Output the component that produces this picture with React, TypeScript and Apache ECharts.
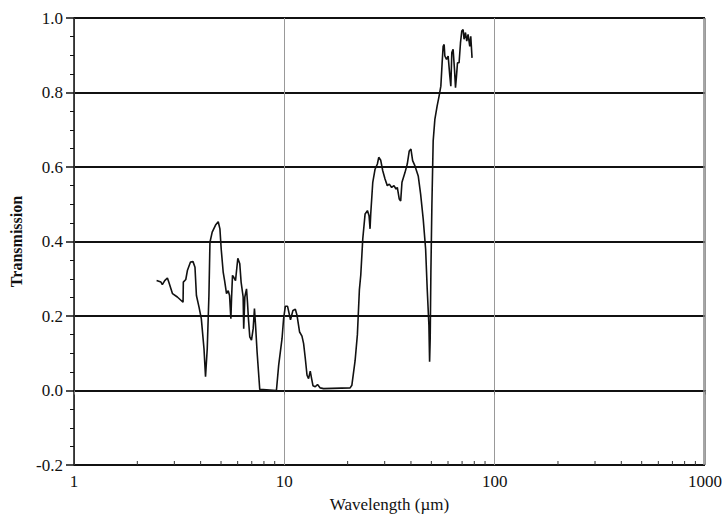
import React, { useEffect, useRef } from "react";
import * as echarts from "echarts";

// Wavelength (µm) and transmission
const wavelengths: number[] = [
  2.47, 2.59, 2.63, 2.7, 2.78, 2.83, 2.94, 3.1, 3.3, 3.31, 3.4, 3.46, 3.58, 3.68, 3.76, 3.82, 3.93,
  4.03, 4.15, 4.22, 4.3, 4.38, 4.43, 4.54, 4.71, 4.85, 4.94, 5.01, 5.12, 5.2, 5.31, 5.41, 5.49,
  5.57, 5.61, 5.67, 5.75, 5.86, 6.01, 6.14, 6.23, 6.37, 6.41, 6.49, 6.61, 6.68, 6.75, 6.85, 6.98,
  7.11, 7.21, 7.29, 7.42, 7.64, 9.17, 9.4, 9.75, 9.92, 10.11, 10.36, 10.7, 10.99, 11.28, 11.49,
  11.82, 12.13, 12.35, 12.58, 12.82, 13.04, 13.28, 13.48, 13.68, 14.03, 14.38, 14.81, 15.36,
  20.55, 20.94, 21.7, 22.25, 22.74, 23.09, 23.6, 24.21, 24.83, 25.28, 25.56, 25.75, 26.33, 27.0,
  27.69, 28.11, 28.73, 29.37, 30.11, 30.87, 31.56, 32.38, 33.21, 33.95, 34.44, 35.19, 35.74,
  36.25, 37.46, 38.41, 39.26, 39.99, 40.74, 41.78, 43.31, 44.46, 45.74, 46.96, 47.78, 48.68,
  49.05, 49.37, 49.75, 50.29, 51.01, 51.96, 53.28, 54.45, 55.48, 56.27, 56.89, 57.52, 57.96,
  59.04, 60.09, 61.21, 61.88, 62.56, 63.45, 64.42, 65.13, 65.84, 66.57, 67.74, 68.78, 69.77,
  70.77, 71.54, 72.64, 73.69, 74.74, 76.14, 76.98, 78.06,
];

const transmission: number[] = [
  0.295, 0.291, 0.284, 0.295, 0.302, 0.289, 0.26, 0.251, 0.237, 0.291, 0.298, 0.322, 0.345, 0.346,
  0.331, 0.255, 0.224, 0.193, 0.112, 0.037, 0.112, 0.255, 0.398, 0.425, 0.444, 0.453, 0.434, 0.38,
  0.318, 0.295, 0.26, 0.268, 0.255, 0.193, 0.246, 0.309, 0.304, 0.295, 0.355, 0.34, 0.291, 0.251,
  0.166, 0.251, 0.273, 0.237, 0.193, 0.144, 0.135, 0.166, 0.22, 0.179, 0.104, 0.003, 0.0, 0.068,
  0.139, 0.193, 0.226, 0.226, 0.19, 0.215, 0.218, 0.202, 0.157, 0.146, 0.126, 0.086, 0.041,
  0.032, 0.052, 0.032, 0.013, 0.01, 0.016, 0.007, 0.005, 0.007, 0.014, 0.08, 0.15, 0.27, 0.31,
  0.407, 0.474, 0.483, 0.469, 0.434, 0.474, 0.559, 0.594, 0.608, 0.626, 0.618, 0.59, 0.568, 0.55,
  0.554, 0.545, 0.55, 0.541, 0.545, 0.514, 0.509, 0.559, 0.585, 0.608, 0.643, 0.648, 0.617,
  0.603, 0.576, 0.527, 0.46, 0.38, 0.273, 0.175, 0.077, 0.139, 0.318, 0.496, 0.67, 0.728, 0.764,
  0.791, 0.817, 0.88, 0.924, 0.929, 0.898, 0.889, 0.898, 0.844, 0.817, 0.907, 0.916, 0.862,
  0.813, 0.844, 0.88, 0.88, 0.933, 0.965, 0.969, 0.943, 0.961, 0.938, 0.956, 0.924, 0.951, 0.893,
];

// Minor tick positions on the log x-axis
const xMinorTicks: number[] = [
  2, 3, 4, 5, 6, 7, 8, 9, 20, 30, 40, 50, 60, 70, 80, 90, 200, 300, 400, 500, 600, 700, 800, 900,
];

// Right frame edge: [x, yFrom, yTo]
const rightFrame: number[][] = [[1000, -0.2, 1.0]];

const FONT = "Liberation Serif";

export default function App() {
  const ref = useRef<HTMLDivElement>(null);

  useEffect(() => {
    if (!ref.current) return;
    const chart = echarts.init(ref.current, undefined, { renderer: "svg" });
    const lineData = wavelengths.map((w, i) => [w, transmission[i]]);

    chart.setOption({
      animation: false,
      backgroundColor: "#ffffff",
      grid: { left: 73, right: 20, top: 18, bottom: 52, containLabel: false },
      xAxis: {
        type: "log",
        logBase: 10,
        min: 1,
        max: 1000,
        name: "Wavelength (µm)",
        nameLocation: "middle",
        nameGap: 31,
        nameTextStyle: { fontFamily: FONT, fontSize: 17, color: "#111" },
        axisLine: { show: true, lineStyle: { color: "#111", width: 2 } },
        axisTick: { show: true, inside: false, length: 4, lineStyle: { color: "#777", width: 1 } },
        axisLabel: {
          fontFamily: FONT,
          fontSize: 17,
          color: "#111",
          margin: 8,
          formatter: (v: number) => String(Math.round(v)),
        },
        splitLine: {
          show: true,
          showMinLine: true,
          showMaxLine: true,
          lineStyle: { color: "#999", width: 1 },
        },
      },
      yAxis: {
        type: "value",
        min: -0.2,
        max: 1.0,
        interval: 0.2,
        name: "Transmission",
        nameLocation: "middle",
        nameGap: 50,
        nameTextStyle: { fontFamily: FONT, fontSize: 16, fontWeight: "bold", color: "#111" },
        axisLine: { show: true, lineStyle: { color: "#111", width: 1.5 } },
        axisTick: { show: true, inside: false, length: 8, lineStyle: { color: "#111", width: 1.5 } },
        minorTick: { show: true, splitNumber: 4, length: 4, lineStyle: { color: "#111", width: 1 } },
        axisLabel: {
          fontFamily: FONT,
          fontSize: 17,
          color: "#111",
          margin: 11,
          formatter: (v: number) => v.toFixed(1),
        },
        splitLine: { show: true, lineStyle: { color: "#111", width: 2 } },
      },
      series: [
        {
          type: "line",
          data: lineData,
          showSymbol: false,
          symbol: "none",
          lineStyle: { color: "#111", width: 1.6 },
          z: 5,
        },
        {
          type: "custom",
          data: xMinorTicks.map((v) => [v, -0.2]),
          renderItem: (_params: any, api: any) => {
            const p = api.coord([api.value(0), api.value(1)]);
            return {
              type: "line",
              shape: { x1: p[0], y1: p[1], x2: p[0], y2: p[1] - 4 },
              style: { stroke: "#333", lineWidth: 1 },
            };
          },
          z: 6,
          silent: true,
        },
        {
          type: "custom",
          clip: false,
          data: rightFrame,
          encode: { x: 0, y: [1, 2] },
          renderItem: (_params: any, api: any) => {
            const a = api.coord([api.value(0), api.value(1)]);
            const b = api.coord([api.value(0), api.value(2)]);
            return {
              type: "line",
              shape: { x1: a[0] - 1, y1: a[1], x2: b[0] - 1, y2: b[1] },
              style: { stroke: "#888", lineWidth: 1.5 },
            };
          },
          z: 4,
          silent: true,
        },
      ],
    });

    return () => chart.dispose();
  }, []);

  return (
    <div
      ref={ref}
      style={{ position: "absolute", left: 0, top: 0, width: 725, height: 518, background: "#fff" }}
    />
  );
}
